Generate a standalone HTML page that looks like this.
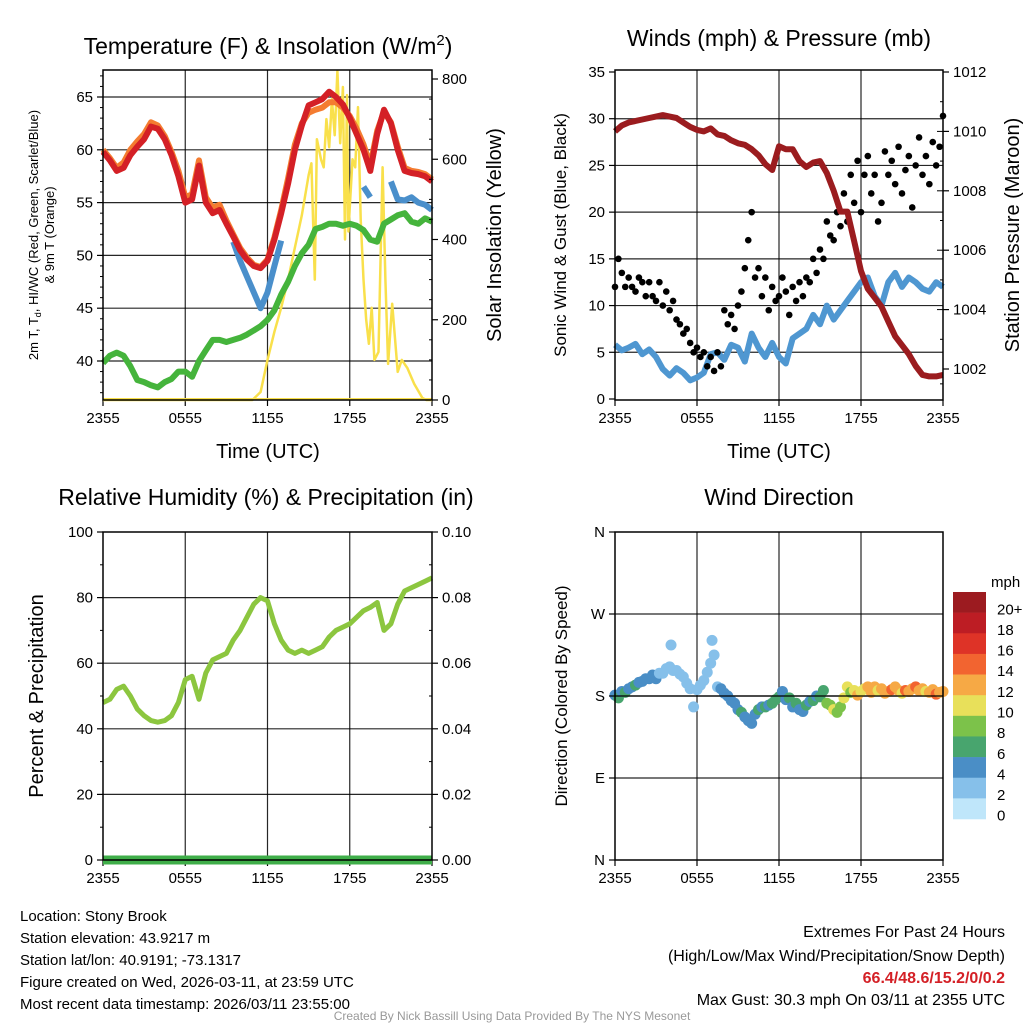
<!DOCTYPE html>
<html><head><meta charset="utf-8"><style>
html,body{margin:0;padding:0;background:#fff}
svg{display:block;font-family:"Liberation Sans",sans-serif}
</style></head><body>
<svg id="c" width="1024" height="1024" viewBox="0 0 1024 1024" xmlns="http://www.w3.org/2000/svg">
<g id="g"></g>
</svg>
<script>
// ---------- data ----------
const hoursHalf=[0,.5,1,1.5,2,2.5,3,3.5,4,4.5,5,5.5,6,6.5,7,7.5,8,8.5,9,9.5,10,10.5,11,11.5,12,12.5,13,13.5,14,14.5,15,15.5,16,16.5,17,17.5,18,18.5,19,19.5,20,20.5,21,21.5,22,22.5,23,23.5,24];
const hoursQuarter=[0,.25,.5,.75,1,1.25,1.5,1.75,2,2.25,2.5,2.75,3,3.25,3.5,3.75,4,4.25,4.5,4.75,5,5.25,5.5,5.75,6,6.25,6.5,6.75,7,7.25,7.5,7.75,8,8.25,8.5,8.75,9,9.25,9.5,9.75,10,10.25,10.5,10.75,11,11.25,11.5,11.75,12,12.25,12.5,12.75,13,13.25,13.5,13.75,14,14.25,14.5,14.75,15,15.25,15.5,15.75,16,16.25,16.5,16.75,17,17.25,17.5,17.75,18,18.25,18.5,18.75,19,19.25,19.5,19.75,20,20.25,20.5,20.75,21,21.25,21.5,21.75,22,22.25,22.5,22.75,23,23.25,23.5,23.75,24];
const timeTicks=['2355','0555','1155','1755','2355'];
const tempRed=[59.8,59,58,58.3,59.5,60.3,61,62.2,62,61,59.5,57.5,55,55.3,58.5,55,54,54.3,53,51.8,50.5,49.6,49,48.8,49.5,51.5,54,56.8,60,62.3,64.2,64.5,64.8,65.5,65,64.3,63,61.5,60,58,61.5,63.8,62.5,60,58,57.8,57.7,57.5,57];
const tempOrange=[60,59.2,58.3,58.8,60,60.8,61.5,62.6,62.3,61.3,59.8,58,55.5,55.8,59,55.5,54.5,54.8,53.3,52,50.7,49.8,49.1,48.9,49.6,51.7,54.3,57.3,60.5,62.5,63.5,63.8,64,64.5,64.5,64,63.2,62,60.5,58.5,61.8,63.6,62.6,60.3,58.3,58,57.9,57.7,57.2];
const tempBlue=[null,null,null,null,null,null,null,null,null,null,null,null,null,null,null,null,null,null,null,51.3,49.5,48,46.5,45,46.5,49,51.4,null,null,null,null,null,null,null,null,null,null,null,56.5,55.5,null,null,57,55.3,55.2,55.5,55,54.8,54.3];
const dewGreen=[39.8,40.5,40.8,40.5,39.5,38.2,38,37.7,37.5,38,38.3,39,39,38.5,40,41,42,42,41.8,42,42.2,42.5,42.9,43.3,43.9,44.8,46.3,47.5,49,50.2,51,52.5,52.7,53,53,52.8,53,52.8,52.4,51.5,51.3,53,53.4,53.8,54,53.2,53,53.5,53.2];
const solarHours=[0,10.9,11.5,12,12.5,13,13.5,14,14.5,15,15.2,15.45,15.6,15.9,16.1,16.3,16.5,16.7,16.9,17.1,17.3,17.5,17.65,17.8,17.9,18.2,18.4,18.6,18.8,19,19.2,19.4,19.6,19.8,20.1,20.4,20.6,20.8,21.1,21.5,21.8,22.2,22.7,23.3,23.6,24];
const solarVals=[0,0,20,100,170,230,300,380,460,560,590,300,650,600,580,700,630,750,660,820,640,780,400,760,420,600,580,730,450,300,200,140,230,100,120,580,300,90,240,70,100,80,40,5,0,0];
const pressure=[1010,1010.2,1010.3,1010.35,1010.4,1010.45,1010.5,1010.55,1010.5,1010.45,1010.3,1010.15,1010.05,1010,1010.1,1009.9,1009.85,1009.7,1009.6,1009.55,1009.4,1009.2,1008.9,1008.7,1009.5,1009.4,1009.4,1009,1008.8,1008.95,1009,1008.6,1008,1007.3,1007.3,1006.3,1005.3,1004.7,1004.4,1004.1,1003.6,1003.1,1002.8,1002.5,1002.1,1001.8,1001.75,1001.75,1001.8];
const windSpd=[5.8,5.2,5.5,5.9,4.8,5.3,4.5,3.2,2.5,3.3,2.8,2,2.3,2.8,4.8,5,4.2,5.8,5.5,4,7,5.5,4.5,6,4.5,3.8,6.5,7,7.5,9,8,10,8.5,9.5,10.5,11.5,12.5,13,11,10,12.5,13.5,12,13,12.5,11.8,11.5,12.5,12];
const gustVals=[12,15,13.5,12,13,12,11.5,13,12.5,11,12.5,11,10.5,12.5,10,11.5,9.5,10.5,8.5,8,7,7.5,6,5,5.5,4.5,5,3.5,4.5,3,5,3.5,9.5,8,9,7.5,10,11.5,14,17,20,13,14,11,13,9.5,12,10.5,11,13,11.5,9,12,10.5,12.5,11,13,12.5,15,13.5,16,15,19,17.5,17,20,18.5,22,19,24,21,25.5,20,24,26,22,24,19,21,26.5,24,25.5,23,27,22,24.5,26,20.5,25,28,24,26,23,27.5,25,27,30.3];
const rh=[48,49,52,53,50,46,44,42.5,42,42.5,44,48,55,56,49,57,61,62,63,67,70,74,78,80,79,72,67,64,63,64,63,64,65,68,70,71,72,74,76,77,78.5,70,72,78,82,83,84,85,86];
const precip=[0,0,0,0,0,0,0,0,0,0,0,0,0,0,0,0,0,0,0,0,0,0,0,0,0,0,0,0,0,0,0,0,0,0,0,0,0,0,0,0,0,0,0,0,0,0,0,0,0];
const dirHours=[0,.25,.5,.75,1,1.25,1.5,1.75,2,2.25,2.5,2.75,3,3.25,3.5,3.75,4,4.1,4.25,4.5,4.75,5,5.25,5.5,5.75,6,6.25,6.5,6.75,7,7.1,7.25,7.5,7.75,8,8.25,8.5,8.75,9,9.25,9.5,9.75,10,10.25,10.5,10.75,11,11.25,11.5,11.75,12,12.25,12.5,12.75,13,13.25,13.5,13.75,14,14.25,14.5,14.75,15,15.25,15.5,15.75,16,16.25,16.5,16.75,17,17.25,17.5,17.75,18,18.25,18.5,18.75,19,19.25,19.5,19.75,20,20.25,20.5,20.75,21,21.25,21.5,21.75,22,22.25,22.5,22.75,23,23.25,23.5,23.75,24];
const dirVals=[181,178,185,184,188,190,192,195,196,199,199,203,199,205,205,210,212,236,208,208,204,201,194,188,168,187,192,197,206,216,241,225,190,188,183,180,175,172,165,162,157,153,150,160,165,168,168,170,172,176,179,185,176,178,168,172,165,163,170,174,175,180,179,186,172,170,165,162,168,178,190,184,186,181,185,188,190,184,190,186,188,183,185,187,190,186,183,186,185,188,190,186,188,185,184,187,182,184,185];
const dirSpd=[5,6,5,6,4,4,6,5,4,4,4,5,4,3,3,2,2,2,2,2,3,2,2,2,2,2,2,2,2,2,2,2,3,4,4,4,4,5,4,6,4,4,4,4,6,5,6,5,7,6,6,4,5,6,5,6,4,5,7,5,6,5,6,7,8,8,10,9,8,10,10,9,11,12,11,10,12,13,12,11,13,12,13,14,12,13,11,14,13,12,15,13,12,11,13,12,14,12,13];
const cbLabels=['20+','18','16','14','12','10','8','6','4','2','0'];
const cbColors=['#9c1b20','#bd1d24','#de3327','#f26430','#f6a945','#e8e05a','#7cc24a','#48a56e','#4a8ec6','#86c0ea','#bfe6fa'];

// ---------- helpers ----------
const NS='http://www.w3.org/2000/svg';
const G=document.getElementById('g');
function el(tag,attrs,parent,text){const e=document.createElementNS(NS,tag);for(const k in attrs)e.setAttribute(k,attrs[k]);if(text!==undefined)e.textContent=text;(parent||G).appendChild(e);return e;}
function lin(d0,d1,r0,r1){return v=>r0+(v-d0)*(r1-r0)/(d1-d0);}
function spdColor(s){const i=Math.min(10,Math.max(0,Math.floor(s/2)));return cbColors[10-i];}
function linePath(xs,ys,fx,fy){let d='',pen=false;const n=Math.min(xs.length,ys.length);for(let i=0;i<n;i++){if(ys[i]===null||ys[i]===undefined){pen=false;continue;}d+=(pen?'L':'M')+fx(xs[i]).toFixed(1)+' '+fy(ys[i]).toFixed(1);pen=true;}return d;}

function panel(x0,y0,x1,y1,name,grids){
  const g=el('g',{});
  
  
  const fx=lin(0,24,x0,x1);
  [6,12,18].forEach(h=>{const l=el('line',{x1:fx(h),y1:y0,x2:fx(h),y2:y1,stroke:'#000','stroke-width':1.2,'stroke-opacity':.85},g);});
  grids.forEach(y=>{const l=el('line',{x1:x0,y1:y,x2:x1,y2:y,stroke:'#000','stroke-width':1.2,'stroke-opacity':.85},g);});
  timeTicks.forEach((t,i)=>{const xx=fx(i*6);el('line',{x1:xx,y1:y1,x2:xx,y2:y1+6,stroke:'#000','stroke-width':1.2},g);const tx=el('text',{x:xx,y:y1+23,'font-size':15,'text-anchor':'middle'},g,t);});
  return {g,fx};
}
function frame(x0,y0,x1,y1,parent){const r=el('rect',{x:x0,y:y0,width:x1-x0,height:y1-y0,fill:'none',stroke:'#000','stroke-width':1.5},parent);}
function yTicks(parent,vals,fy,x,side,labels){vals.forEach((v,i)=>{const y=fy(v);el('line',{x1:x,y1:y,x2:x+(side<0?-6:6),y2:y,stroke:'#000','stroke-width':1.2},parent);const t=el('text',{x:x+(side<0?-10:10),y:y+5,'font-size':15,'text-anchor':side<0?'end':'start'},parent,labels?labels[i]:String(v));});}
function minor(parent,vals,fy,x,side){vals.forEach(v=>{const y=fy(v);el('line',{x1:x,y1:y,x2:x+(side<0?-3:3),y2:y,stroke:'#000','stroke-width':1},parent);});}
function txt(x,y,s,size,name,opt){const t=el('text',Object.assign({x:x,y:y,'font-size':size,'text-anchor':'middle'},opt||{}),G,s);return t;}
function vtxt(x,y,s,size,name){const t=el('text',{x:0,y:0,'font-size':size,'text-anchor':'middle',transform:`translate(${x},${y}) rotate(-90)`},G,s);return t;}

// ---------- panel 1 ----------
(function(){
  const x0=103,x1=432,y0=70,y1=400;
  const fy=lin(40,65,361,97), fs=lin(0,800,400,79);
  const p=panel(x0,y0,x1,y1,'temperature-panel',[40,45,50,55,60,65].map(fy));
  const ps=el('path',{d:linePath(solarHours,solarVals,p.fx,fs),fill:'none',stroke:'#f9e04b','stroke-width':2.5,'stroke-linejoin':'round'},p.g);
  
  const pg=el('path',{d:linePath(hoursHalf,dewGreen,p.fx,fy),fill:'none',stroke:'#45b43c','stroke-width':6,'stroke-linejoin':'round'},p.g);
  
  const pb=el('path',{d:linePath(hoursHalf,tempBlue,p.fx,fy),fill:'none',stroke:'#4a8fcb','stroke-width':6,'stroke-linejoin':'round'},p.g);
  
  const po=el('path',{d:linePath(hoursHalf,tempOrange,p.fx,fy),fill:'none',stroke:'#f47c30','stroke-width':6,'stroke-linejoin':'round'},p.g);
  
  const pr=el('path',{d:linePath(hoursHalf,tempRed,p.fx,fy),fill:'none',stroke:'#d42026','stroke-width':6,'stroke-linejoin':'round'},p.g);
  
  el('line',{x1:x0,y1:y1-1,x2:x1,y2:y1-1,stroke:'#f9e04b','stroke-width':2},p.g);
  frame(x0,y0,x1,y1,p.g);
  yTicks(p.g,[40,45,50,55,60,65],fy,x0,-1);
  minor(p.g,[37,38,39,41,42,43,44,46,47,48,49,51,52,53,54,56,57,58,59,61,62,63,64,66,67],fy,x0,-1);
  yTicks(p.g,[0,200,400,600,800],fs,x1,1);
  minor(p.g,[50,100,150,250,300,350,450,500,550,650,700,750],fs,x1,-1);
})();
const t1=txt(268,54,'',23,'temperature-title');
t1.innerHTML='Temperature (F) &amp; Insolation (W/m<tspan dy="-9" font-size="15">2</tspan><tspan dy="9">)</tspan>';
txt(268,458,'Time (UTC)',20,'temperature-x-axis-title');
const yl=vtxt(38,235,'',13,'temperature-y-axis-title');
yl.innerHTML='2m T, T<tspan font-size="9" dy="3">d</tspan><tspan dy="-3">, HI/WC (Red, Green, Scarlet/Blue)</tspan>';
vtxt(54,235,'& 9m T (Orange)',13,'temperature-y-axis-title-2');
vtxt(501,235,'Solar Insolation (Yellow)',20,'solar-y-axis-title');

// ---------- panel 2 ----------
(function(){
  const x0=615,x1=943,y0=70,y1=400;
  const fy=lin(0,35,399,72), fp=lin(1002,1012,369,72);
  const p=panel(x0,y0,x1,y1,'winds-panel',[5,10,15,20,25,30].map(fy));
  [1004,1006,1008,1010].forEach(v=>el('line',{x1:x1-6,y1:fp(v),x2:x1,y2:fp(v),stroke:'#000'},p.g));
  const pw=el('path',{d:linePath(hoursHalf,windSpd,p.fx,fy),fill:'none',stroke:'#4f97d1','stroke-width':6,'stroke-linejoin':'round'},p.g);
  
  const ng=Math.min(hoursQuarter.length,gustVals.length);
  for(let i=0;i<ng;i++){const c=el('circle',{cx:p.fx(hoursQuarter[i]),cy:fy(gustVals[i]),r:3.3,fill:'#000'},p.g);
    
    }
  const pp=el('path',{d:linePath(hoursHalf,pressure,p.fx,fp),fill:'none',stroke:'#9b1c1f','stroke-width':6,'stroke-linejoin':'round'},p.g);
  
  frame(x0,y0,x1,y1,p.g);
  yTicks(p.g,[0,5,10,15,20,25,30,35],fy,x0,-1);
  yTicks(p.g,[1002,1004,1006,1008,1010,1012],fp,x1,1);
  minor(p.g,[1001.5,1003,1005,1007,1009,1011],fp,x1,-1);
})();
txt(779,46,'Winds (mph) & Pressure (mb)',23,'winds-title');
txt(779,458,'Time (UTC)',20,'winds-x-axis-title');
vtxt(566,235,'Sonic Wind & Gust (Blue, Black)',17,'wind-y-axis-title');
vtxt(1019,235,'Station Pressure (Maroon)',20,'pressure-y-axis-title');

// ---------- panel 3 ----------
(function(){
  const x0=103,x1=432,y0=532,y1=860;
  const fy=lin(0,100,860,532), fq=lin(0,0.1,860,532);
  const p=panel(x0,y0,x1,y1,'humidity-panel',[20,40,60,80].map(fy));
  const ph=el('path',{d:linePath(hoursHalf,rh,p.fx,fy),fill:'none',stroke:'#8cc63f','stroke-width':5,'stroke-linejoin':'round'},p.g);
  
  const pq=el('path',{d:linePath(hoursHalf,precip,p.fx,fq),fill:'none',stroke:'#3fae49','stroke-width':9},p.g);
  
  frame(x0,y0,x1,y1,p.g);
  yTicks(p.g,[0,20,40,60,80,100],fy,x0,-1);
  minor(p.g,[10,30,50,70,90],fy,x0,-1);
  yTicks(p.g,[0,0.02,0.04,0.06,0.08,0.1],fq,x1,1,['0.00','0.02','0.04','0.06','0.08','0.10']);
  minor(p.g,[0.01,0.03,0.05,0.07,0.09],fq,x1,-1);
})();
txt(266,505,'Relative Humidity (%) & Precipitation (in)',23,'humidity-title');
vtxt(43,696,'Percent & Precipitation',20,'humidity-y-axis-title');

// ---------- panel 4 ----------
(function(){
  const x0=615,x1=943,y0=532,y1=860;
  const fy=lin(0,360,860,532);
  const p=panel(x0,y0,x1,y1,'wind-direction-panel',[90,180,270].map(fy));
  const nd=Math.min(dirHours.length,dirVals.length,dirSpd.length);
  for(let i=0;i<nd;i++){const c=el('circle',{cx:p.fx(dirHours[i]),cy:fy(dirVals[i]),r:5.5,fill:spdColor(dirSpd[i])},p.g);
    
    }
  el('line',{x1:x0,y1:fy(180),x2:x1,y2:fy(180),stroke:'#000','stroke-width':1.2},p.g);
  frame(x0,y0,x1,y1,p.g);
  yTicks(p.g,[0,90,180,270,360],fy,x0,-1,['N','E','S','W','N']);
  const cb=el('g',{},G);
  
  
  const bh=(819-592)/11;
  cbColors.forEach((c,i)=>{el('rect',{x:953,y:592+i*bh,width:33,height:bh+0.3,fill:c},cb);
    const t=el('text',{x:997,y:592+i*bh+bh/2+12,'font-size':15},cb,cbLabels[i]);
    
    });
  const u=el('text',{x:991,y:587,'font-size':15},cb,'mph');
  
  
})();
txt(779,505,'Wind Direction',23,'wind-direction-title');
vtxt(567,696,'Direction (Colored By Speed)',17,'direction-y-axis-title');

// ---------- footer text ----------
['Location: Stony Brook','Station elevation: 43.9217 m','Station lat/lon: 40.9191; -73.1317','Figure created on Wed, 2026-03-11, at 23:59 UTC','Most recent data timestamp: 2026/03/11 23:55:00'].forEach((s,i)=>txt(20,921+i*22,s,15,'station-info-line',{'text-anchor':'start'}));
txt(1005,937,'Extremes For Past 24 Hours',16,'extremes-title',{'text-anchor':'end'});
txt(1005,961,'(High/Low/Max Wind/Precipitation/Snow Depth)',16,'extremes-legend',{'text-anchor':'end'});
txt(1005,983,'66.4/48.6/15.2/0/0.2',16,'extremes-values',{'text-anchor':'end',fill:'#d42026','font-weight':'bold'});
txt(1005,1005,'Max Gust: 30.3 mph On 03/11 at 2355 UTC',16,'max-gust',{'text-anchor':'end'});
txt(512,1020,'Created By Nick Bassill Using Data Provided By The NYS Mesonet',12,'credit',{fill:'#999'});
</script>
</body></html>
